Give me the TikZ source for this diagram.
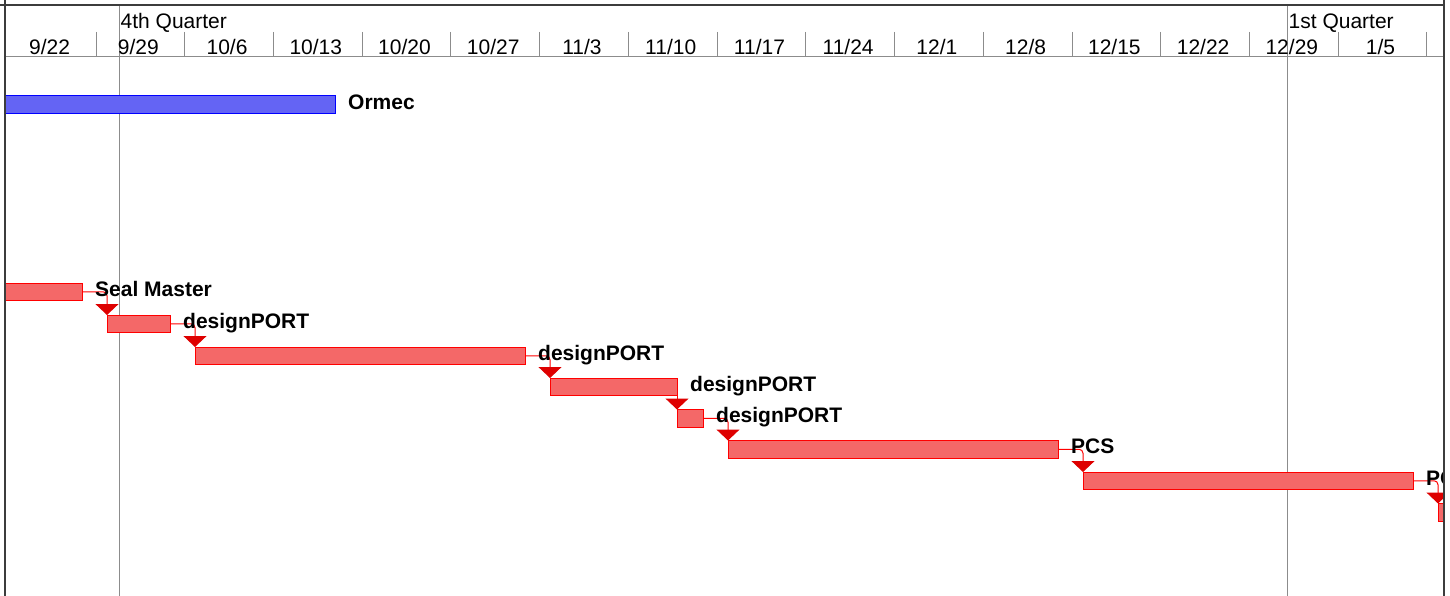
\documentclass[tikz,border=0pt]{standalone}
\usepackage{fontspec}
\setmainfont{Liberation Sans}
\usetikzlibrary{arrows.meta}
\definecolor{barred}{RGB}{244,104,104}
\definecolor{barblue}{RGB}{100,100,244}
\definecolor{arrred}{RGB}{222,0,0}
\definecolor{gridgray}{RGB}{140,140,140}
\definecolor{framecol}{RGB}{60,60,60}
\begin{document}
\begin{tikzpicture}[x=1pt,y=-1pt,
  bar/.style={draw=red, fill=barred, line width=1pt, inner sep=0pt, outer sep=0pt, anchor=north west, minimum height=17.5pt},
  bluebar/.style={bar, draw=blue, fill=barblue},
  lbl/.style={font=\fontsize{21}{25}\selectfont\bfseries, inner sep=0pt, anchor=base west},
  hdr/.style={font=\fontsize{21}{25}\selectfont, inner sep=0pt},
  conn/.style={draw=red, line width=1pt, rounded corners=4pt, -{Triangle[width=23pt,length=11pt,color=arrred]}},
  gridline/.style={draw=gridgray, line width=1pt},
  frameline/.style={draw=framecol, line width=1.6pt}]

\useasboundingbox (0,0) rectangle (1450,596);

% header grid
\draw[gridline] (5,57) -- (1444,57);
\foreach \i in {0,...,15} \draw[gridline] ({96+\i*88.73},32) -- ({96+\i*88.73},57);
\draw[gridline] (119,5) -- (119,596);
\draw[gridline] (1287,5) -- (1287,596);

% header labels
\node[hdr, anchor=base west] (q4) at (120.5,28.5) {4th Quarter};
\node[hdr, anchor=base west] (q1) at (1288.5,28.5) {1st Quarter};
\foreach \lab [count=\i from 0] in {9/22,9/29,10/6,10/13,10/20,10/27,11/3,11/10,11/17,11/24,12/1,12/8,12/15,12/22,12/29,1/5}
  \node[hdr, anchor=base] (w\i) at ({49.6+\i*88.73},55) {\lab};

\begin{scope}
\clip (5,5) rectangle (1444,596);
% bars
\node[bluebar, minimum width=330pt] (ormec) at (5,96) {};
\node[bar, minimum width=77pt]  (seal) at (5,283) {};
\node[bar, minimum width=63pt]  (d1) at (107,315) {};
\node[bar, minimum width=330pt] (d2) at (195,347) {};
\node[bar, minimum width=127pt] (d3) at (550,378) {};
\node[bar, minimum width=26pt]  (d4) at (677,409.5) {};
\node[bar, minimum width=330pt] (p1) at (728,440.5) {};
\node[bar, minimum width=330pt] (p2) at (1083,472) {};
\node[bar, minimum width=40pt]  (p3) at (1438,503.5) {};

% connectors
\draw[conn] (seal.east) -| (d1.north west);
\draw[conn] (d1.east) -| (d2.north west);
\draw[conn] (d2.east) -| (d3.north west);
\draw[conn] (d3.east) -| (d4.north west);
\draw[conn] (d4.east) -| (p1.north west);
\draw[conn] (p1.east) -| (p2.north west);
\draw[conn] (p2.east) -| (p3.north west);

% labels
\node[lbl] (lormec) at ([xshift=13pt,yshift=-5pt]ormec.east) {Ormec};
\node[lbl] (lseal) at ([xshift=13pt,yshift=-4.5pt]seal.east) {Seal Master};
\node[lbl] (ld1) at ([xshift=13pt,yshift=-4.5pt]d1.east) {designPORT};
\node[lbl] (ld2) at ([xshift=13pt,yshift=-4.5pt]d2.east) {designPORT};
\node[lbl] (ld3) at ([xshift=13pt,yshift=-4.5pt]d3.east) {designPORT};
\node[lbl] (ld4) at ([xshift=13pt,yshift=-4.5pt]d4.east) {designPORT};
\node[lbl] (lp1) at ([xshift=13pt,yshift=-4.5pt]p1.east) {PCS};
\node[lbl] (lp2) at ([xshift=13pt,yshift=-4.5pt]p2.east) {PCS};
\end{scope}

% frame
\draw[frameline] (0,5) -- (1444,5);
\draw[frameline] (5,0) -- (5,596);
\draw[frameline] (1444,0) -- (1444,596);
\end{tikzpicture}
\end{document}
